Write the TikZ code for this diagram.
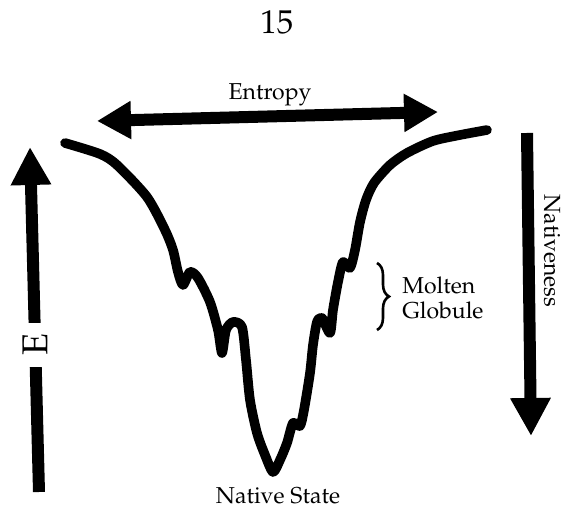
\documentclass[tikz,border=0pt]{standalone}
\usepackage[T1]{fontenc}
\usepackage{palatino}
\usetikzlibrary{arrows.meta,decorations.pathreplacing}

\begin{document}
\begin{tikzpicture}[x=0.5pt,y=-0.5pt,
    bigarrow/.style={line width=6pt, -{Triangle[width=19pt,length=19pt]}},
    landscape/.style={line width=4.8pt, line cap=round, line join=round},
    lbl/.style={font=\fontsize{11.5}{12.5}\selectfont, inner sep=1pt}]
\useasboundingbox (0,0) rectangle (564,518);

\node [font=\fontsize{16.5}{18}\selectfont] (page) at (277,22) {15};

% entropy arrow
\coordinate (entL) at (97,121);
\coordinate (entR) at (438,112);
\draw [bigarrow, {Triangle[width=18pt,length=17pt]}-{Triangle[width=18pt,length=17pt]}] (entL) -- (entR);
\node [lbl] (entropy) at (270,95) {Entropy};

% energy axis
\coordinate (Ebot) at (39,492);
\coordinate (Etop) at (30,147);
\draw [bigarrow] (Ebot) -- (Etop);
\node [rotate=90, fill=white, inner xsep=5.5pt, inner ysep=3pt,
  font=\fontsize{18}{20}\selectfont] (energy) at (35,345) {E};

% nativeness axis
\coordinate (Ntop) at (527,133);
\coordinate (Nbot) at (531,436);
\draw [bigarrow] (Ntop) -- (Nbot);
\node [lbl, rotate=-90] (native) at (552,251) {Nativeness};

% the funnel
\draw [landscape] plot [smooth, tension=0.45] coordinates {
  (65,143) (100,154) (117,165) (147,197) (165,230) (173,250) (178,272) (183,285)
  (190,272) (198,278) (210,302) (218,330) (222,353) (226,330) (233,322) (242,327)
  (246,360) (250,400) (257,433) (265,455) (273,472) (280,460) (287,443) (293,423)
  (300,426) (304,410) (310,373) (313,345) (317,322) (322,318) (330,333) (333,310)
  (338,282) (343,262) (350,268) (355,250) (360,222) (366,200) (374,183) (390,165)
  (407,153) (433,141) (460,135) (487,130)};

% molten globule
\coordinate (mgTop) at (377,263);
\coordinate (mgBot) at (377,330);
\draw [line width=1.3pt, decorate, decoration={brace, amplitude=6pt}] (mgTop) -- (mgBot);
\node [lbl, anchor=west, align=left] (molten) at (400,298) {Molten\\Globule};

\node [lbl] (state) at (278,496) {Native State};
\end{tikzpicture}
\end{document}
